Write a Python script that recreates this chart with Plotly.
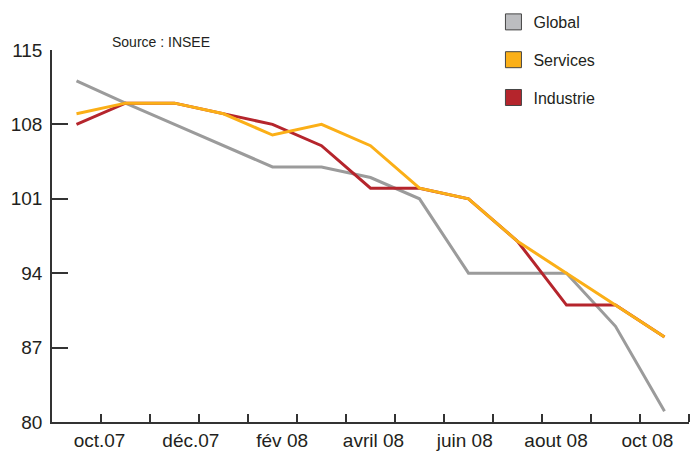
import numpy as np
import plotly.graph_objects as go

# monthly index values, oct 07 -> oct 08
months = ["oct.07", "nov.07", "déc.07", "jan.08", "fév 08", "mars 08", "avril 08",
          "mai 08", "juin 08", "juil 08", "aout 08", "sept 08", "oct 08"]
global_idx = [112.1, 110, 108, 106, 104, 104, 103, 101, 94, 94, 94, 89, 81]
services_idx = [109, 110, 110, 109, 107, 108, 106, 102, 101, 97, 94, 91, 88]
industrie_idx = [108, 110, 110, 109, 108, 106, 102, 102, 101, 97, 91, 91, 88]

tick_labels = ["oct.07", "déc.07", "fév 08", "avril 08", "juin 08", "aout 08", "oct 08"]
y_ticks = [80, 87, 94, 101, 108, 115]

series = [
    ("Global", global_idx, "#9b9b9b", "#bcbdc0"),
    ("Industrie", industrie_idx, "#b5252c", "#b5252c"),
    ("Services", services_idx, "#fbaf17", "#fbb018"),
]
legend_order = ["Global", "Services", "Industrie"]

x = list(range(len(months)))
fig = go.Figure()

# lines (services drawn last so it sits on top)
for name, vals, col, _ in series:
    fig.add_trace(go.Scatter(x=x, y=vals, mode="lines", name=name, showlegend=False,
                             line=dict(color=col, width=3), cliponaxis=False,
                             hovertemplate="%{text}: %{y}<extra>" + name + "</extra>",
                             text=months))

# square legend swatches
swatch = {name: fill for name, _, _, fill in series}
for i, name in enumerate(legend_order):
    fig.add_trace(go.Scatter(x=[None], y=[None], mode="markers", name=name,
                             legendgroup=name, legendrank=i,
                             marker=dict(symbol="square", size=16, color=swatch[name],
                                         line=dict(color="#444", width=1))))

axis_col = "#333333"
label_pos = np.linspace(0.47, 11.65, len(tick_labels))

fig.update_xaxes(range=[-0.5, 12.5], showline=True, linecolor=axis_col, linewidth=1.5,
                 tickvals=label_pos, ticktext=tick_labels, ticks="", automargin=False,
                 minor=dict(tickmode="array", tickvals=[k + 0.5 for k in range(13)],
                            ticks="inside", ticklen=8, tickwidth=1.5, tickcolor=axis_col),
                 showgrid=False, zeroline=False,
                 tickfont=dict(size=19, color="#231f20"))
fig.update_yaxes(range=[80, 115], tickvals=y_ticks, showline=True, linecolor=axis_col,
                 linewidth=1.5, ticks="inside", ticklen=16, tickwidth=1.5, tickcolor=axis_col,
                 showgrid=False, zeroline=False, automargin=False, ticklabelstandoff=4,
                 tickfont=dict(size=19, color="#231f20"))

fig.add_annotation(text="Source : INSEE", xref="paper", yref="paper", x=0.171, y=1.0215,
                   xanchor="center", yanchor="middle", showarrow=False,
                   font=dict(size=14, color="#231f20"))

fig.update_layout(
    width=690, height=452,
    margin=dict(l=52, r=1, t=50, b=30, autoexpand=False),
    plot_bgcolor="white", paper_bgcolor="white",
    font=dict(family="Liberation Sans, Arial, sans-serif"),
    legend=dict(x=0.693, y=1.121, xanchor="left", yanchor="top",
                tracegroupgap=14, font=dict(size=16, color="#231f20"),
                itemsizing="trace", bgcolor="rgba(0,0,0,0)"),
)

# drop the browser's default 8px body margin so the figure sits at 0,0
fig.write_html("out.html", config={"displayModeBar": False},
               post_script="document.body.style.margin='0';")
